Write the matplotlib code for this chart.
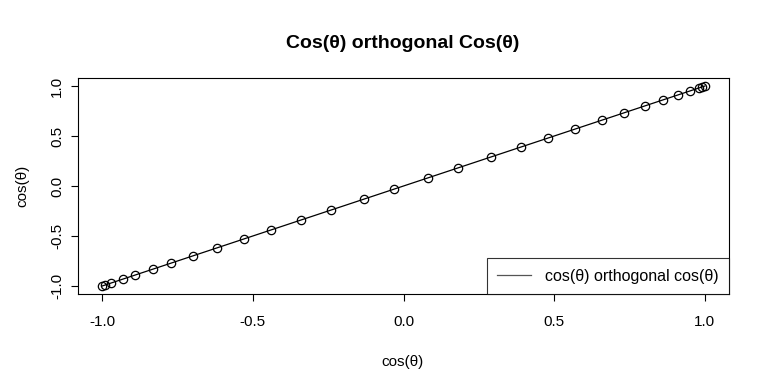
import matplotlib
matplotlib.use("Agg")
import matplotlib.pyplot as plt

plt.rcParams['font.family'] = ['Liberation Sans', 'DejaVu Sans']

# valores (cos(θ) frente a cos(θ))
x_vals = [-1.00, -0.99, -0.97, -0.93, -0.89, -0.83, -0.77, -0.70, -0.62, -0.53,
          -0.44, -0.34, -0.24, -0.13, -0.03, 0.08, 0.18, 0.29, 0.39, 0.48,
          0.57, 0.66, 0.73, 0.80, 0.86, 0.91, 0.95, 0.98, 0.99, 1.00]
y_vals = list(x_vals)
ticks = [-1.0, -0.5, 0.0, 0.5, 1.0]
tick_labels = ["-1.0", "-0.5", "0.0", "0.5", "1.0"]

fig = plt.figure(figsize=(7.69, 3.92), dpi=100)
ax = fig.add_axes([78 / 769, 1 - 294 / 392, (729 - 78) / 769, (294 - 78) / 392])

ax.plot(x_vals, y_vals, color="black", linewidth=0.9, marker="o", markersize=6,
        markerfacecolor="none", markeredgecolor="black", markeredgewidth=0.9,
        label="cos(θ) orthogonal cos(θ)")

ax.set_xlim(-1.08, 1.08)
ax.set_ylim(-1.08, 1.08)
ax.set_xticks(ticks)
ax.set_xticklabels(tick_labels)
ax.set_yticks(ticks)
ax.set_yticklabels(tick_labels, rotation=90, va="center")
ax.tick_params(axis="both", direction="out", length=5, width=0.8, labelsize=11)
ax.tick_params(axis="x", pad=10)
ax.tick_params(axis="y", pad=5)
for s in ax.spines.values():
    s.set_linewidth(0.8)

leg = ax.legend(loc="lower right", fontsize=11.5, frameon=True, fancybox=False,
                borderaxespad=0, handlelength=2.1, borderpad=0.65, handletextpad=0.9)
leg.get_frame().set_edgecolor("black")
leg.get_frame().set_linewidth(0.8)
for h in leg.get_lines():
    h.set_marker("")
    h.set_color("#555555")

fig.text(403 / 769, 1 - 43 / 392, "Cos(θ) orthogonal Cos(θ)", ha="center", va="center",
         fontsize=14, fontweight="bold")
fig.text(403 / 769, 1 - 362 / 392, "cos(θ)", ha="center", va="center", fontsize=11)
fig.text(22 / 769, 1 - 186 / 392, "cos(θ)", ha="center", va="center", fontsize=11,
         rotation=90)

fig.savefig("out.png", dpi=100)
